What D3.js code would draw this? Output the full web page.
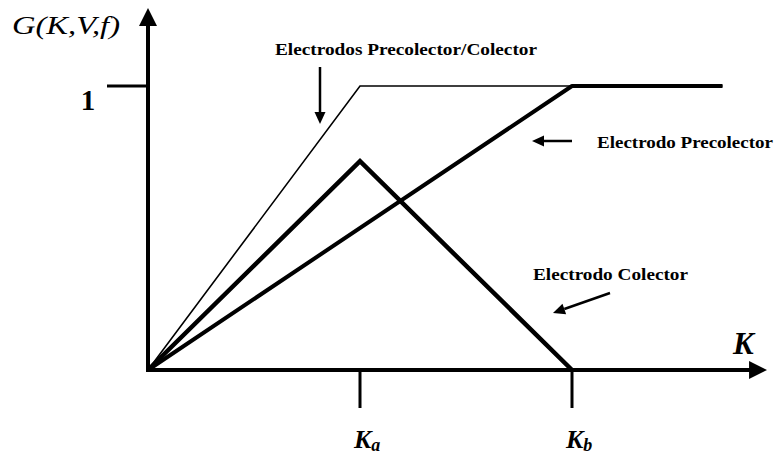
<!DOCTYPE html>
<html><head><meta charset="utf-8">
<script src="https://cdn.jsdelivr.net/npm/d3@7"></script>
<style>body{margin:0;background:#fff}svg{display:block}</style>
</head><body>
<script>
// Data
const kTickValues = [1, 2];
const kTickNames = ["K", "K"];
const kTickSubs = ["a", "b"];
const yTickValues = [1];
const yTickLabels = ["1"];
const serieAmbos = [[0,0],[1,1],[2.71,1]];      // Electrodos Precolector/Colector
const seriePrecolector = [[0,0],[2,1],[2.71,1]]; // Electrodo Precolector
const serieColector = [[0,0],[1,0.735],[2,0]];   // Electrodo Colector
const xMax = 2.92, yMax = 1.275;

const W = 776, H = 458;
const svg = d3.select("body").append("svg").attr("width", W).attr("height", H);
const x = d3.scaleLinear().domain([0, 2]).range([148, 572]);
const y = d3.scaleLinear().domain([0, 1]).range([370, 86]);
const serif = "'Liberation Serif','Times New Roman',serif";

const line = d3.line().x(d => x(d[0])).y(d => y(d[1]));

// Axes
svg.append("line").attr("x1", x(0)).attr("y1", y(0)).attr("x2", x(0)).attr("y2", y(yMax) + 14)
  .attr("stroke", "#000").attr("stroke-width", 4);
svg.append("path").attr("d", `M${x(0)-9},${y(yMax)+18} L${x(0)},${y(yMax)} L${x(0)+9},${y(yMax)+18} Z`).attr("fill", "#000");
svg.append("line").attr("x1", x(0) - 2).attr("y1", y(0)).attr("x2", x(xMax) - 14).attr("y2", y(0))
  .attr("stroke", "#000").attr("stroke-width", 4);
svg.append("path").attr("d", `M${x(xMax)-18},${y(0)-9} L${x(xMax)},${y(0)} L${x(xMax)-18},${y(0)+9} Z`).attr("fill", "#000");

// Y ticks
yTickValues.forEach((v, i) => {
  svg.append("line").attr("x1", x(0) - 41).attr("x2", x(0)).attr("y1", y(v)).attr("y2", y(v))
    .attr("stroke", "#000").attr("stroke-width", 3);
  svg.append("text").attr("x", x(0) - 60).attr("y", y(v) + 24).attr("text-anchor", "middle")
    .attr("font-family", serif).attr("font-weight", "bold").attr("font-size", 29).text(yTickLabels[i]);
});

// X ticks
kTickValues.forEach((v, i) => {
  svg.append("line").attr("x1", x(v)).attr("x2", x(v)).attr("y1", y(0)).attr("y2", y(0) + 38)
    .attr("stroke", "#000").attr("stroke-width", 3);
  const t = svg.append("text").attr("x", x(v) - 6).attr("y", 448).attr("font-family", serif)
    .attr("font-style", "italic").attr("font-weight", "bold").attr("font-size", 26);
  t.append("tspan").text(kTickNames[i]);
  t.append("tspan").attr("font-size", 18).attr("dy", 3).text(kTickSubs[i]);
});

// Series
svg.append("path").attr("d", line(seriePrecolector)).attr("fill", "none").attr("stroke", "#000").attr("stroke-width", 4).attr("stroke-linejoin", "round");
svg.append("path").attr("d", line(serieColector)).attr("fill", "none").attr("stroke", "#000").attr("stroke-width", 4.5).attr("stroke-linejoin", "miter");
svg.append("path").attr("d", line(serieAmbos)).attr("fill", "none").attr("stroke", "#000").attr("stroke-width", 1.6);

// Axis titles
svg.append("text").attr("x", 12).attr("y", 34).attr("font-family", serif).attr("font-style", "italic")
  .attr("font-size", 26).attr("textLength", 108).attr("lengthAdjust", "spacingAndGlyphs").text("G(K,V,f)");
svg.append("text").attr("x", 733).attr("y", 354).attr("font-family", serif).attr("font-style", "italic")
  .attr("font-weight", "bold").attr("font-size", 31).text("K");

// Annotations
const ann = (tx, ty, txt, len) => svg.append("text").attr("x", tx).attr("y", ty).attr("font-family", serif)
  .attr("font-weight", "bold").attr("font-size", 16).attr("textLength", len).attr("lengthAdjust", "spacingAndGlyphs").text(txt);
ann(275, 55, "Electrodos Precolector/Colector", 262);
ann(597, 148, "Electrodo Precolector", 176);
ann(533, 280, "Electrodo Colector", 155);

const arrow = (x1, y1, x2, y2) => {
  const a = Math.atan2(y2 - y1, x2 - x1), L = 12, w = 5.5;
  const bx = x2 - L * Math.cos(a), by = y2 - L * Math.sin(a);
  svg.append("line").attr("x1", x1).attr("y1", y1).attr("x2", bx).attr("y2", by).attr("stroke", "#000").attr("stroke-width", 2.5);
  svg.append("path").attr("d", `M${x2},${y2} L${bx - w*Math.sin(a)},${by + w*Math.cos(a)} L${bx + w*Math.sin(a)},${by - w*Math.cos(a)} Z`).attr("fill", "#000");
};
arrow(320, 67, 320, 124);
arrow(572, 141, 532, 141);
arrow(610, 293, 553, 313);
</script>
</body></html>
